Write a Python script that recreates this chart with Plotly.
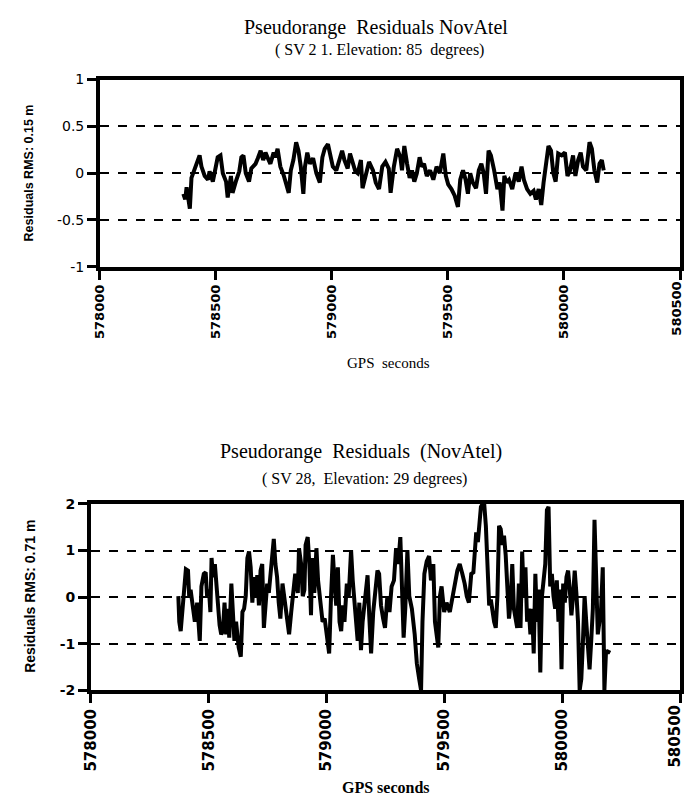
import plotly.graph_objects as go

W, H = 684, 809

# ---------------- data ----------------
x_ticks = [578000, 578500, 579000, 579500, 580000, 580500]
x_ticklabels = ["578000", "578500", "579000", "579500", "580000", "580500"]
top_yticks = [-1, -0.5, 0, 0.5, 1]
top_yticklabels = ["-1", "-0.5", "0", "0.5", "1"]
bot_yticks = [-2, -1, 0, 1, 2]
bot_yticklabels = ["-2", "-1", "0", "1", "2"]

top_t = [
    578360, 578368, 578374, 578382, 578388, 578395, 578402,
    578416, 578430, 578438, 578452, 578466, 578473, 578487, 578494,
    578508, 578520, 578530, 578544, 578551, 578565, 578572, 578586,
    578601, 578610, 578619, 578629, 578643, 578653, 578671, 578681,
    578693, 578704, 578714, 578724, 578735, 578749, 578756, 578766,
    578778, 578792, 578806, 578814, 578823, 578834, 578846, 578856,
    578866, 578877, 578884, 578894, 578905, 578919, 578933, 578948,
    578959, 578969, 578983, 578993, 579004, 579019, 579033, 579044,
    579054, 579068, 579078, 579089, 579101, 579111, 579125, 579132,
    579146, 579160, 579177, 579189, 579203, 579217, 579231, 579245,
    579253, 579267, 579281, 579295, 579302, 579312, 579324, 579335,
    579345, 579355, 579366, 579378, 579387, 579397, 579409, 579423,
    579437, 579451, 579465, 579480, 579491, 579501, 579515, 579529,
    579543, 579553, 579565, 579576, 579586, 579596, 579607, 579621,
    579633, 579644, 579654, 579664, 579675, 579685, 579699, 579713,
    579723, 579735, 579743, 579752, 579763, 579777, 579791, 579805,
    579817, 579827, 579841, 579855, 579869, 579879, 579891, 579902,
    579912, 579923, 579933, 579944, 579954, 579964, 579975, 579990,
    580004, 580015, 580025, 580039, 580049, 580061, 580072, 580082,
    580096, 580110, 580120, 580131, 580143, 580153, 580163, 580171,
]
top_r = [
    -0.22, -0.28, -0.15, -0.30, -0.38, -0.05, 0.0,
    0.10, 0.19, 0.07, -0.03, -0.07, 0.02, -0.09, 0.0,
    0.17, 0.19, 0.0, -0.09, -0.26, -0.03, -0.21, -0.09,
    0.02, 0.17, 0.19, 0.0, -0.09, 0.05, 0.10, 0.16,
    0.24, 0.14, 0.22, 0.16, 0.10, 0.22, 0.17, 0.26,
    0.07, -0.02, -0.17, -0.21, 0.03, 0.14, 0.33, 0.24,
    0.07, -0.22, 0.07, 0.22, 0.10, 0.16, 0.0, -0.10,
    0.17, 0.26, 0.31, 0.21, 0.07, 0.03, 0.16, 0.24,
    0.14, 0.05, 0.21, 0.10, 0.02, 0.0, 0.14, -0.16,
    0.0, 0.12, 0.03, -0.10, -0.17, 0.07, 0.12, 0.05,
    -0.21, 0.07, 0.26, 0.17, 0.03, 0.29, 0.10, -0.05,
    0.03, -0.09, 0.0, 0.17, 0.07, 0.10, -0.03, 0.03,
    -0.07, 0.07, 0.0, 0.21, -0.03, -0.12, -0.17, -0.24,
    -0.36, -0.07, 0.03, -0.07, -0.22, 0.0, -0.10, -0.16,
    0.03, 0.10, 0.0, -0.22, 0.24, 0.19, 0.03, -0.17,
    -0.10, -0.40, -0.03, -0.10, -0.07, -0.17, 0.0, -0.09,
    0.07, -0.07, -0.17, -0.22, -0.19, -0.28, -0.17, -0.34,
    -0.10, 0.07, 0.29, 0.24, 0.0, -0.09, 0.21, 0.19,
    0.22, -0.03, 0.02, 0.19, -0.03, 0.14, 0.22, 0.07,
    0.03, 0.33, 0.26, 0.03, -0.10, 0.10, 0.14, 0.03,
]

bot_t = [
    578371, 578375, 578381, 578389, 578395, 578403, 578412, 578417,
    578423, 578431, 578441, 578451, 578462, 578469, 578479, 578487,
    578493, 578501, 578507, 578512, 578518, 578526, 578532, 578539,
    578546, 578553, 578560, 578567, 578574, 578581, 578587, 578596,
    578602, 578609, 578616, 578627, 578636, 578643, 578650, 578657,
    578664, 578671, 578678, 578685, 578692, 578699, 578706, 578713,
    578720, 578727, 578734, 578741, 578748, 578755, 578762, 578769,
    578776, 578783, 578790, 578797, 578804, 578813, 578822, 578832,
    578841, 578850, 578860, 578867, 578878, 578883, 578892, 578899,
    578906, 578911, 578920, 578927, 578934, 578939, 578948, 578957,
    578964,
    578972, 578983, 578992, 579002, 579011, 579019, 579027, 579034,
    579041, 579048, 579055, 579062, 579069, 579076, 579086, 579094,
    579104, 579111, 579118, 579125, 579132, 579139, 579146, 579153,
    579164, 579174, 579181, 579189, 579198, 579206, 579216, 579223,
    579231, 579240, 579248, 579258, 579267, 579276, 579286, 579295,
    579304, 579313, 579320, 579327, 579334, 579343, 579351, 579362,
    579374, 579383, 579393, 579401, 579407, 579415, 579425, 579435,
    579443, 579453, 579460, 579467, 579474, 579481, 579488, 579499,
    579509, 579523, 579533, 579544, 579555, 579565, 579572,
    579576, 579586, 579595, 579604, 579614, 579623, 579635, 579642,
    579648, 579655, 579662, 579669, 579676, 579683, 579690, 579697,
    579704, 579711, 579718, 579725, 579732, 579739, 579746, 579753,
    579760, 579767, 579774, 579781, 579788, 579795, 579802, 579809,
    579816, 579823, 579830, 579837, 579844, 579851, 579858, 579865,
    579872, 579879, 579886, 579893, 579900, 579907, 579914, 579921,
    579928, 579935, 579942, 579949, 579956, 579963, 579970, 579977,
    579984, 579990, 579997, 580004, 580011, 580018, 580025, 580032,
    580039, 580046, 580053, 580060, 580067, 580074, 580081, 580088,
    580095, 580102, 580109, 580116, 580123, 580130, 580137, 580144,
    580151, 580158, 580165, 580172, 580179, 580186, 580193, 580200,
]
bot_r = [
    0.02, -0.53, -0.73, -0.18, 0.29, 0.60, 0.57, 0.02,
    0.16, -0.18, -0.53, -0.12, -0.94, 0.23, 0.50, 0.53,
    0.02, 0.16, -0.32, 0.84, 0.43, 0.71, 0.29, 0.02,
    -0.60, -0.80, -0.73, -0.12, -0.80, -0.25, -0.87, 0.29,
    -0.18, -0.94, -0.53, -1.08, -1.28, -0.32, -0.25, 0.02,
    0.84, 0.98, 0.64, -0.12, 0.43, 0.02, 0.47, -0.18,
    0.57, 0.71, -0.66, -0.05, 0.29, 0.09, 0.43, 0.84,
    1.25, 0.71, 0.43, -0.12, -0.46, 0.29, -0.12, -0.53,
    -0.80, -0.32, 0.23, 0.50, 0.09, 1.05, 0.71, 0.02,
    0.16, 1.12, 1.29, 0.71, -0.39, 0.84, 0.09, 1.05,
    0.36,
    0.02, -0.53, -0.46, -0.80, -1.21, 0.02, 0.91, 0.29,
    -0.18, 0.64, -0.53, -0.73, -0.18, -0.53, 0.29, 0.02,
    1.01, 0.36, -0.12, -0.53, -0.94, -0.12, -1.14, -0.53,
    -0.05, 0.47, -0.39, -1.21, -0.32, 0.02, 0.57, 0.50,
    -0.18, -0.46, -0.66, 0.02, -0.32, 0.23, 0.36, 1.05,
    0.71, 1.29, 0.02, -0.87, -0.25, 1.01, 0.02, -0.25,
    -0.80, -1.42, -1.76, -2.0, -0.53, 0.50, 0.77, 0.88,
    0.36, 0.71, -0.53, -0.80, -1.08, 0.02, 0.23, -0.32,
    -0.12, -0.32, -0.05, 0.23, 0.57, 0.71, 0.50,
    0.50, 0.29, 0.02, -0.12, 0.50, 0.53, 1.39, 1.18,
    1.66, 1.94, 2.0, 2.0, 1.53, 0.50, -0.18, -0.05,
    -0.39, -0.53, -0.66, 0.02, 1.53, 1.46, 1.12, 1.32,
    0.91, 0.29, -0.46, -0.12, 0.71, -0.25, -0.53, -0.66,
    0.29, -0.66, 0.98, 0.02, 0.64, -0.53, -0.25, -0.80,
    -0.25, -1.21, 0.50, -0.53, 0.16, -1.62, 0.02, 0.36,
    0.71, 1.87, 1.94, 0.23, 0.50, 0.02, -0.25, 0.36,
    -0.53, 0.16, -1.55, 0.29, -0.12, 0.43, 0.57, 0.16,
    -0.39, 0.02, 0.57, 0.09, -0.53, -2.0, -1.76, -0.94,
    0.02, -0.53, -1.21, -1.55, -0.94, -0.25, 1.66, 0.02,
    -0.80, -0.53, -0.25, 0.64, -2.0, -1.14, -1.21, -1.14,
]

# ---------------- figure ----------------
def px(x):
    return x / W

def py(y):
    return 1 - y / H

fig = go.Figure()
fig.add_trace(go.Scatter(x=top_t, y=top_r, mode="lines",
                         line=dict(color="black", width=4),
                         xaxis="x", yaxis="y", showlegend=False))
fig.add_trace(go.Scatter(x=bot_t, y=bot_r, mode="lines",
                         line=dict(color="black", width=4),
                         xaxis="x2", yaxis="y2", showlegend=False))

common = dict(showline=True, linecolor="black", linewidth=3.5, mirror=True,
              ticks="outside", ticklen=9, tickwidth=3, tickcolor="black",
              zeroline=False)

xfont_top = dict(family="DejaVu Sans", size=13, color="black", weight="bold")
xfont_bot = dict(family="DejaVu Sans", size=15, color="black", weight="bold")

TOP_X = (92, 680)
TOP_Y = (73, 264)
BOT_X = (83, 680)
BOT_Y = (506, 696)

fig.update_layout(
    width=W, height=H,
    margin=dict(l=0, r=0, t=0, b=0),
    paper_bgcolor="white", plot_bgcolor="white",
    xaxis=dict(domain=[px(TOP_X[0]), px(TOP_X[1])], anchor="y",
               range=[578000, 580500], tickvals=x_ticks, ticktext=x_ticklabels,
               tickangle=-90, tickfont=xfont_top, showgrid=False, **common),
    yaxis=dict(domain=[py(TOP_Y[1]), py(TOP_Y[0])], anchor="x",
               range=[-1, 1], tickvals=top_yticks, ticktext=top_yticklabels,
               tickfont=dict(family="DejaVu Sans", size=14, color="black"),
               showgrid=True, gridcolor="black", griddash="dash", gridwidth=2,
               **common),
    xaxis2=dict(domain=[px(BOT_X[0]), px(BOT_X[1])], anchor="y2",
                range=[578000, 580500], tickvals=x_ticks, ticktext=x_ticklabels,
                tickangle=-90, tickfont=xfont_bot, showgrid=False, **common),
    yaxis2=dict(domain=[py(BOT_Y[1]), py(BOT_Y[0])], anchor="x2",
                range=[-2, 2], tickvals=bot_yticks, ticktext=bot_yticklabels,
                tickfont=dict(family="DejaVu Sans", size=14, color="black", weight="bold"),
                showgrid=True, gridcolor="black", griddash="dash", gridwidth=2,
                **common),
)

serif = "Liberation Serif"
sans = "Liberation Sans"

def ann(text, x, y, size, family=serif, angle=0, weight="normal",
        xanchor="center", yanchor="middle"):
    fig.add_annotation(text=text, x=px(x), y=py(y), xref="paper", yref="paper",
                       xanchor=xanchor, yanchor=yanchor, showarrow=False,
                       textangle=angle,
                       font=dict(family=family, size=size, color="black", weight=weight))

ann("Pseudorange  Residuals NovAtel", 372, 20, 20)
ann("( SV 2 1. Elevation: 85  degrees)", 375, 43, 16)
ann("GPS  seconds", 385, 362, 15)
ann("Residuals RMS: 0.15 m", 20, 168, 12.5, family=sans, angle=-90, weight="bold")

ann("Pseudorange  Residuals  (NovAtel)", 357, 452, 20)
ann("( SV 28,  Elevation: 29 degrees)", 360, 480, 16)
ann("GPS seconds", 382, 795, 16, weight="bold")
ann("Residuals RMS: 0.71 m", 21, 600, 14, family=sans, angle=-90, weight="bold")

# last x tick label, nudged just inside the window edge so it stays whole
ann(x_ticklabels[-1], TOP_X[1] - 4, TOP_Y[1] + 13, 13, family="DejaVu Sans",
    angle=-90, weight="bold", yanchor="top")
ann(x_ticklabels[-1], BOT_X[1] - 5, BOT_Y[1] + 13, 15, family="DejaVu Sans",
    angle=-90, weight="bold", yanchor="top")

fig.write_html("out.html")
